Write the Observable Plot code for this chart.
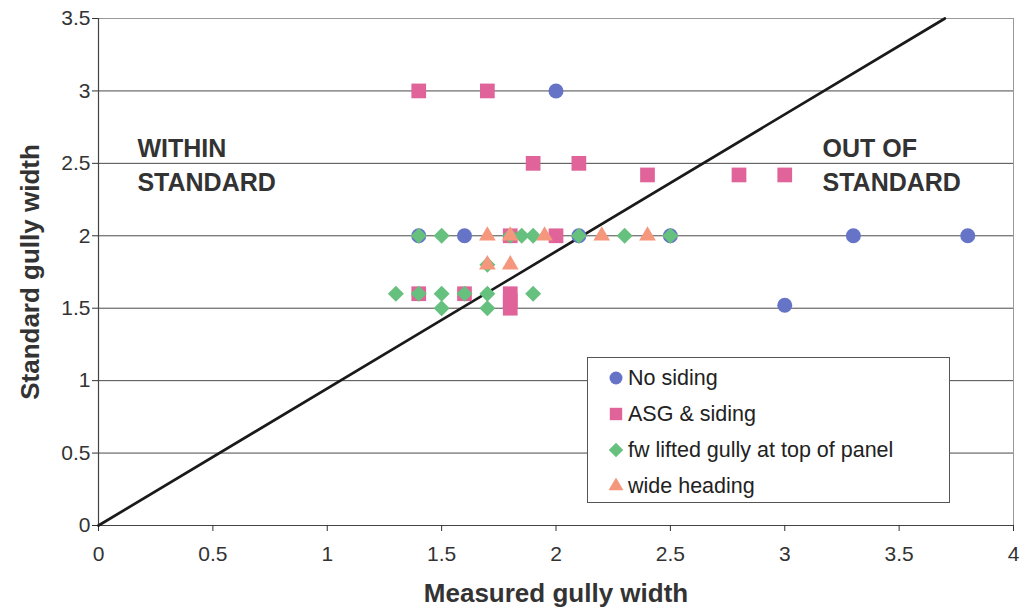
<!DOCTYPE html>
<html>
<head>
<meta charset="utf-8">
<script src="https://cdn.jsdelivr.net/npm/d3@7"></script>
<script src="https://cdn.jsdelivr.net/npm/@observablehq/plot@0.6"></script>
<style>
  html, body { margin: 0; padding: 0; background: #fff; }
  #wrap { position: relative; width: 1020px; height: 609px; font-family: "Liberation Sans", Arial, sans-serif; }
  #legend { position: absolute; left: 587px; top: 357px; width: 361px; height: 144px; border: 1px solid #555; background: #fff; box-sizing: content-box; }
  .item { position: absolute; left: 20px; height: 30px; display: flex; align-items: center; font-size: 21.5px; color: #222; white-space: nowrap; }
  .item svg { margin-right: 4px; }
</style>
</head>
<body>
<div id="wrap"><div id="legend"></div></div>
<script>
const series = ["No siding", "ASG & siding", "fw lifted gully at top of panel", "wide heading"];
const colors = ["#6674c8", "#e0649a", "#66c07e", "#f5977c"];
const shapes = ["circle", "square", "diamond2", "triangle"];

// No siding (circles)
const noSidingX = [1.4, 1.6, 2.0, 2.1, 2.5, 3.3, 3.8, 3.0];
const noSidingY = [2.0, 2.0, 3.0, 2.0, 2.0, 2.0, 2.0, 1.52];
// ASG & siding (squares)
const asgX = [1.4, 1.7, 1.9, 2.1, 2.4, 2.8, 3.0, 1.8, 2.0, 1.4, 1.6, 1.8, 1.8, 1.8];
const asgY = [3.0, 3.0, 2.5, 2.5, 2.42, 2.42, 2.42, 2.0, 2.0, 1.6, 1.6, 1.6, 1.55, 1.5];
// fw lifted gully at top of panel (diamonds)
const fwX = [1.4, 1.5, 1.8, 1.85, 1.9, 2.1, 2.3, 2.5, 1.7, 1.3, 1.4, 1.5, 1.6, 1.7, 1.9, 1.5, 1.7];
const fwY = [2.0, 2.0, 2.0, 2.0, 2.0, 2.0, 2.0, 2.0, 1.8, 1.6, 1.6, 1.6, 1.6, 1.6, 1.6, 1.5, 1.5];
// wide heading (triangles)
const wideX = [1.7, 1.8, 1.95, 2.2, 2.4, 1.7, 1.8];
const wideY = [2.0, 2.0, 2.0, 2.0, 2.0, 1.8, 1.8];

// Boundary line dividing within / out of standard
const lineX = [0, 3.7];
const lineY = [0, 3.5];

const xTicks = [0, 0.5, 1, 1.5, 2, 2.5, 3, 3.5, 4];
const yTicks = [0, 0.5, 1, 1.5, 2, 2.5, 3, 3.5];

const toRows = (xs, ys, s) => xs.map((x, i) => ({x, y: ys[i], series: s}));
const groups = [
  {rows: toRows(noSidingX, noSidingY, series[0]), r: 7.5},
  {rows: toRows(asgX, asgY, series[1]), r: 8.3},
  {rows: toRows(fwX, fwY, series[2]), r: 7.2},
  {rows: toRows(wideX, wideY, series[3]), r: 6.2}
];
const lineRows = lineX.map((x, i) => ({x, y: lineY[i]}));

const chart = Plot.plot({
  width: 1020,
  height: 609,
  marginLeft: 98,
  marginRight: 7,
  marginTop: 18,
  marginBottom: 84,
  style: {fontFamily: "'Liberation Sans', Arial, sans-serif", fontSize: "21px", color: "#333", background: "#fff"},
  x: {domain: [0, 4]},
  y: {domain: [0, 3.5]},
  symbol: {domain: series, range: shapes},
  color: {domain: series, range: colors},
  marks: [
    Plot.ruleY(yTicks, {stroke: "#4a4a4a", strokeWidth: 1}),
    Plot.frame({stroke: "#999", strokeWidth: 1}),
    Plot.ruleX([0], {stroke: "#444", strokeWidth: 1.2}),
    Plot.ruleY([0], {stroke: "#444", strokeWidth: 1.2}),
    Plot.axisX({ticks: xTicks, tickSize: 6, tickPadding: 15, tickFormat: d => String(d), label: "Measured gully width", labelAnchor: "center", labelArrow: "none", labelOffset: 76, fontSize: 21}),
    Plot.axisY({ticks: yTicks, tickSize: 6, tickPadding: 2, tickFormat: d => String(d), label: "Standard gully width", labelAnchor: "center", labelArrow: "none", labelOffset: 78, fontSize: 21}),
    Plot.line(lineRows, {x: "x", y: "y", stroke: "#1a1a1a", strokeWidth: 2.7}),
    ...groups.map(g => Plot.dot(g.rows, {x: "x", y: "y", symbol: "series", fill: "series", r: g.r, stroke: null})),
    Plot.text(["WITHIN\nSTANDARD"], {x: 0.17, y: 2.5, text: d => d, textAnchor: "start", lineAnchor: "middle", lineHeight: 1.35, fontSize: 25, fontWeight: "bold", fill: "#333"}),
    Plot.text(["OUT OF\nSTANDARD"], {x: 3.165, y: 2.5, text: d => d, textAnchor: "start", lineAnchor: "middle", lineHeight: 1.35, fontSize: 25, fontWeight: "bold", fill: "#333"})
  ]
});

// bold axis labels
d3.select(chart).selectAll("g[aria-label='x-axis label'] text, g[aria-label='y-axis label'] text")
  .attr("font-weight", "bold").attr("font-size", 26).attr("fill", "#333");

document.getElementById("wrap").prepend(chart);
chart.style.position = "absolute";
chart.style.left = "0";
chart.style.top = "0";

// legend
const legend = d3.select("#legend");
const legendR = [6.5, 7, 6.5, 5.5];
const symMap = {circle: d3.symbolCircle, square: d3.symbolSquare, diamond2: d3.symbolDiamond2, triangle: d3.symbolTriangle};
series.forEach((s, i) => {
  const item = legend.append("div").attr("class", "item").style("top", `${5 + i * 36}px`);
  const svg = item.append("svg").attr("width", 16).attr("height", 16);
  svg.append("path")
    .attr("transform", "translate(8,8)")
    .attr("d", d3.symbol(symMap[shapes[i]], Math.PI * legendR[i] * legendR[i])())
    .attr("fill", colors[i]);
  item.append("span").text(s);
});
</script>
</body>
</html>
